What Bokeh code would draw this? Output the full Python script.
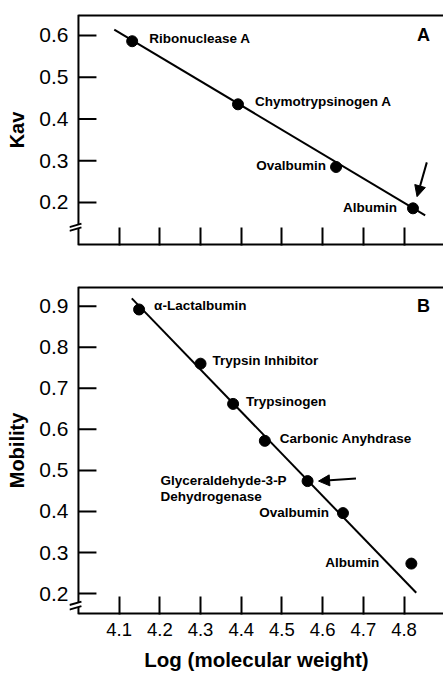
from bokeh.plotting import figure
from bokeh.layouts import column
from bokeh.models import (Arrow, NormalHead, Label, ColumnDataSource,
                          FixedTicker, Range1d)
from bokeh.core.properties import value
from bokeh.embed import file_html
from bokeh.resources import INLINE

# ---------------- data ----------------
x_ticks = [4.1, 4.2, 4.3, 4.4, 4.5, 4.6, 4.7, 4.8]
a_y_ticks = [0.2, 0.3, 0.4, 0.5, 0.6]
b_y_ticks = [0.2, 0.3, 0.4, 0.5, 0.6, 0.7, 0.8, 0.9]
x_axis_origin = 4.0   # where the y axis stands

a_names = ["Ribonuclease A", "Chymotrypsinogen A", "Ovalbumin", "Albumin"]
a_logmw = [4.132, 4.392, 4.633, 4.822]
a_kav = [0.586, 0.435, 0.285, 0.186]
a_fit_x = [4.088, 4.852]
a_fit_y = [0.614, 0.169]
a_arrow_x = [4.856, 4.832]
a_arrow_y = [0.296, 0.214]

b_names = ["\u03b1-Lactalbumin", "Trypsin Inhibitor", "Trypsinogen",
           "Carbonic Anyhdrase", "Glyceraldehyde-3-P\nDehydrogenase",
           "Ovalbumin", "Albumin"]
b_logmw = [4.149, 4.300, 4.380, 4.458, 4.563, 4.650, 4.818]
b_mob = [0.892, 0.760, 0.662, 0.572, 0.474, 0.396, 0.273]
b_fit_x = [4.131, 4.830]
b_fit_y = [0.919, 0.202]
b_arrow_x = [4.682, 4.590]
b_arrow_y = [0.480, 0.474]

# axis-break marks (values where the two "/" cross the y axis)
a_break_y = [0.138, 0.147]
b_break_y = [0.167, 0.178]

# ---------------- styles ----------------
FONT = "Liberation Sans"
FONT_V = value(FONT)
W = 443
LEFT = 69
X_START, X_END = 3.978, 4.897
XPX = (X_END - X_START) / (W - LEFT)     # data units per pixel (x)

a_lab_dx = [17, 17, -10, -16]
a_lab_dy = [-3, -3, -1.5, -1]
a_lab_align = ["left", "left", "right", "right"]
a_lab_base = ["middle"] * 4

b_lab_dx = [15, 12, 13, 15, -147, -14, -32]
b_lab_dy = [-4, -3, -2, -2, -8, -1, -1]
b_lab_align = ["left", "left", "left", "left", "left", "right", "right"]
b_lab_base = ["middle", "middle", "middle", "middle", "top", "middle", "middle"]


def make_fig(height, top, bottom, y0, y1, ylabel, xlabel=None):
    p = figure(width=W, height=height, output_backend="svg", toolbar_location=None,
               x_range=Range1d(X_START, X_END), y_range=Range1d(y0, y1),
               min_border_left=LEFT, min_border_right=0, min_border_top=top,
               min_border_bottom=bottom, y_axis_label=ylabel, x_axis_label=xlabel)
    p.outline_line_color = None
    p.xgrid.visible = False
    p.ygrid.visible = False
    p.background_fill_color = "white"
    p.border_fill_color = "white"
    return p


def style(p, yticks, breaks, frame_h, show_x_labels):
    ypx = (p.y_range.end - p.y_range.start) / frame_h
    xa, ya = p.xaxis[0], p.yaxis[0]
    # x axis: ticks from the axis, line drawn separately
    xa.ticker = FixedTicker(ticks=x_ticks)
    xa.axis_line_color = None
    xa.major_tick_line_width = 2
    xa.major_tick_line_color = "black"
    xa.major_tick_in = 18
    xa.major_tick_out = 0
    xa.minor_tick_line_color = None
    xa.major_label_text_font = FONT
    xa.major_label_text_color = "black"
    xa.axis_label_text_font = FONT
    xa.axis_label_text_font_style = "bold"
    xa.axis_label_text_color = "black"
    if show_x_labels:
        xa.major_label_text_font_size = "18.5px"
        xa.major_label_standoff = 8
        xa.axis_label_text_font_size = "20.5px"
        xa.axis_label_standoff = 9
    else:
        xa.major_label_text_font_size = "10px"
        xa.major_label_text_color = None
        xa.major_label_standoff = 0
    # y axis: only labels from the axis; line and ticks drawn at x_axis_origin
    ya.ticker = FixedTicker(ticks=yticks)
    ya.axis_line_color = None
    ya.major_tick_line_color = None
    ya.minor_tick_line_color = None
    ya.major_tick_in = 0
    ya.major_tick_out = 0
    ya.major_label_text_font = FONT
    ya.major_label_text_color = "black"
    ya.major_label_text_font_size = "21px"
    ya.major_label_standoff = 1
    ya.axis_label_text_font = FONT
    ya.axis_label_text_font_style = "bold"
    ya.axis_label_text_color = "black"
    ya.axis_label_text_font_size = "20px"
    ya.axis_label_standoff = 8

    y0, y1 = p.y_range.start, p.y_range.end
    # y axis line with a gap at the break
    p.segment(x0=[x_axis_origin, x_axis_origin], y0=[y0, breaks[1]],
              x1=[x_axis_origin, x_axis_origin], y1=[breaks[0], y1],
              line_color="black", line_width=2)
    # bottom and top lines (half clipped at the frame edge -> 2px visible)
    p.segment(x0=[x_axis_origin, x_axis_origin], y0=[y0, y1],
              x1=[X_END, X_END], y1=[y0, y1], line_color="black", line_width=4)
    # y ticks pointing inward
    p.ray(x=[x_axis_origin] * len(yticks), y=yticks, length=18,
          length_units="screen", angle=0, line_color="black", line_width=2)
    # "//" break marks
    bx0 = [x_axis_origin - 9 * XPX] * 2
    bx1 = [x_axis_origin + 3 * XPX] * 2
    by0 = [b - 2.5 * ypx for b in breaks]
    by1 = [b + 1.0 * ypx for b in breaks]
    p.segment(x0=bx0, y0=by0, x1=bx1, y1=by1, line_color="black", line_width=2)


def add_points(p, xs, ys, names, dx, dy, align, base):
    src = ColumnDataSource(dict(x=xs, y=ys, name=names, dx=dx, dy=dy,
                                align=align, base=base))
    p.scatter("x", "y", source=src, size=11, color="black")
    p.text("x", "y", text="name", source=src, x_offset="dx", y_offset="dy",
           text_align="align", text_baseline="base", text_font=FONT_V,
           text_font_style="bold", text_font_size="13.5px",
           text_line_height=1.05, text_color="black")


def add_arrow(p, xs, ys):
    p.add_layout(Arrow(end=NormalHead(size=11, fill_color="black", line_color="black"),
                       x_start=xs[0], y_start=ys[0], x_end=xs[1], y_end=ys[1],
                       line_width=2, line_color="black"))


def add_letter(p, text, y):
    p.add_layout(Label(x=X_END - 20 * XPX, y=y, text=text, text_align="center",
                       text_baseline="middle", text_font=FONT, text_font_style="bold",
                       text_font_size="18px", text_color="black"))


# ---------------- panel A ----------------
pa = make_fig(266, 14, 21, 0.097, 0.65, "Kav")
style(pa, a_y_ticks, a_break_y, 266 - 14 - 21, False)
pa.line(a_fit_x, a_fit_y, line_color="black", line_width=2)
add_points(pa, a_logmw, a_kav, a_names, a_lab_dx, a_lab_dy, a_lab_align, a_lab_base)
add_arrow(pa, a_arrow_x, a_arrow_y)
add_letter(pa, "A", 0.6)

# ---------------- panel B ----------------
pb = make_fig(407, 20, 57, 0.149, 0.948, "Mobility", "Log (molecular weight)")
style(pb, b_y_ticks, b_break_y, 407 - 20 - 57, True)
pb.line(b_fit_x, b_fit_y, line_color="black", line_width=2)
add_points(pb, b_logmw, b_mob, b_names, b_lab_dx, b_lab_dy, b_lab_align, b_lab_base)
add_arrow(pb, b_arrow_x, b_arrow_y)
add_letter(pb, "B", 0.9)

layout = column(pa, pb, spacing=0)
open("out.html", "w").write(file_html(layout, INLINE))
